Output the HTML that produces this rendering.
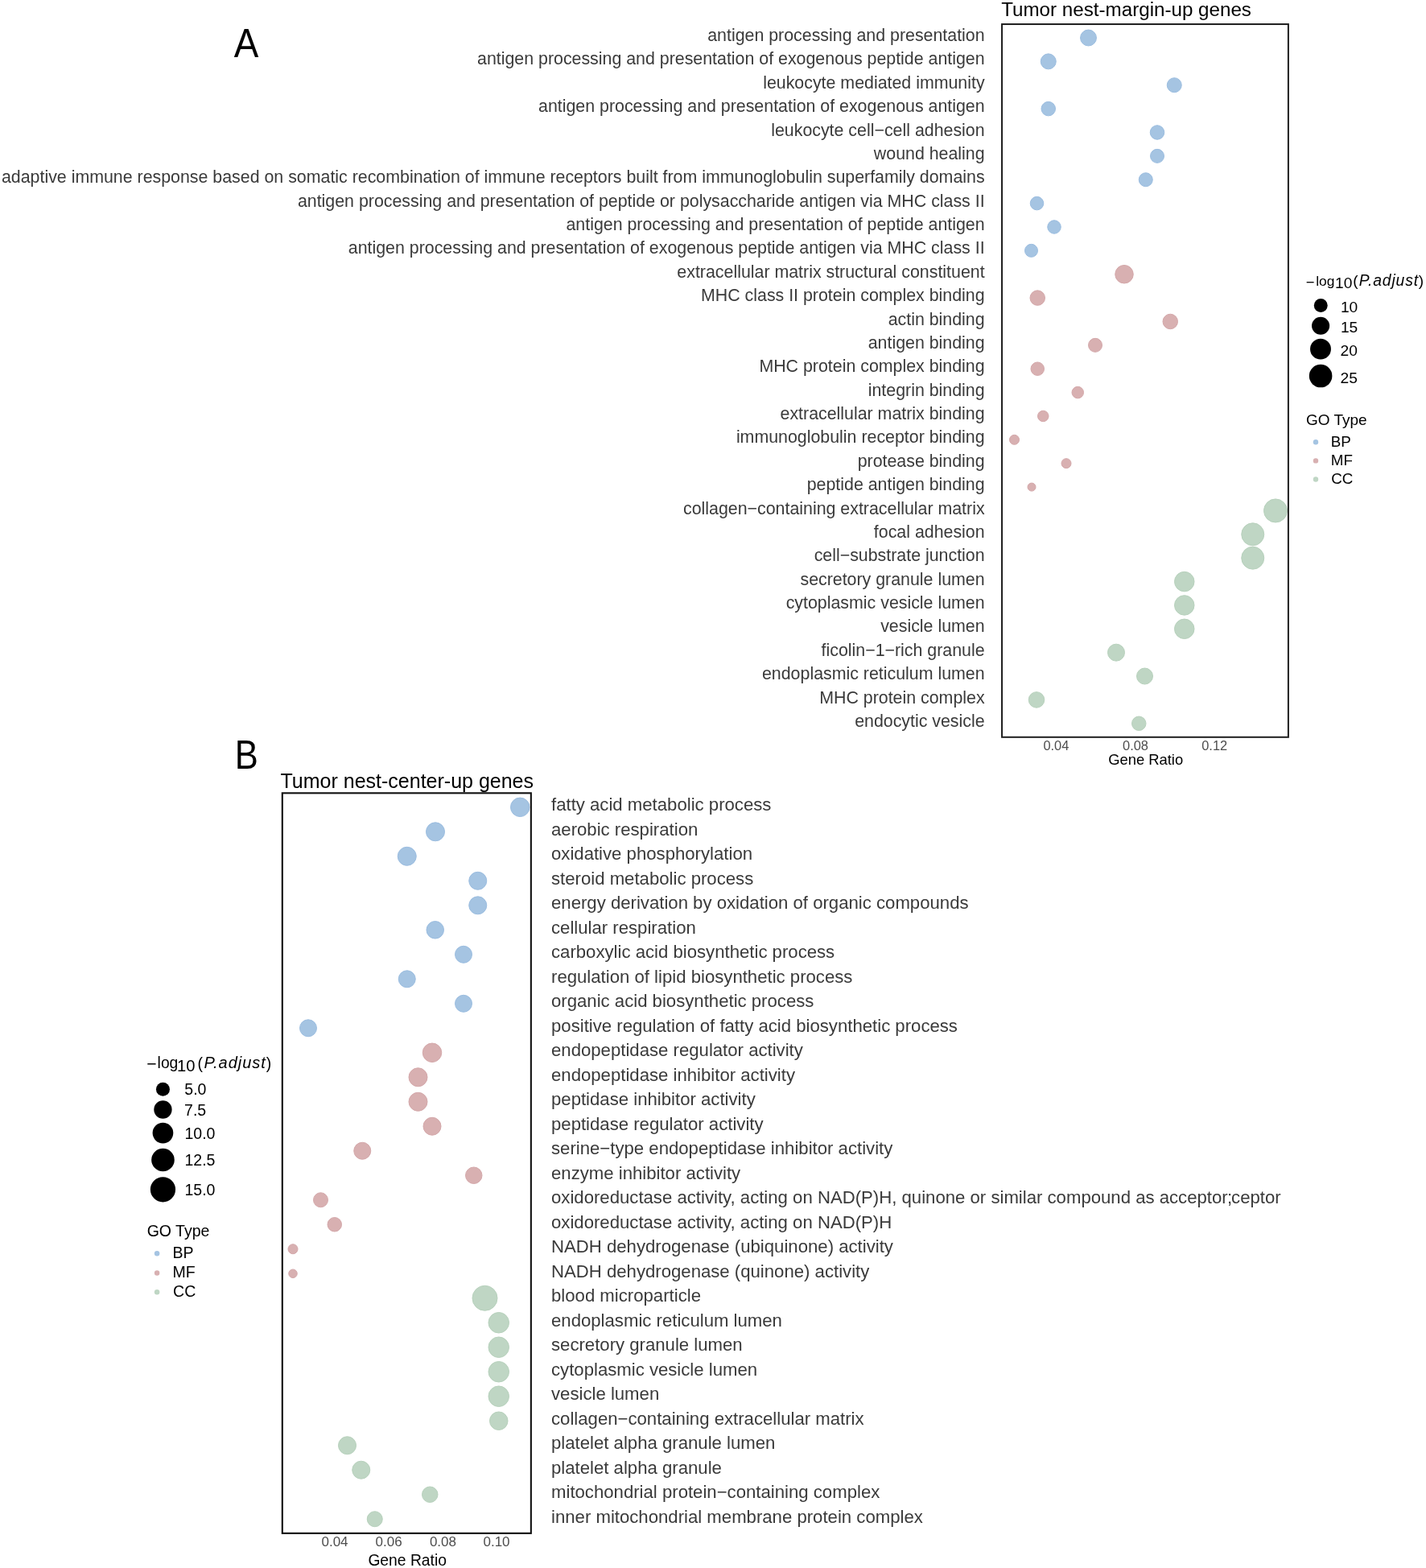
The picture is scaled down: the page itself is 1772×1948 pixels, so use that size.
<!DOCTYPE html>
<html><head><meta charset="utf-8"><title>GO enrichment dot plots</title>
<style>
html,body{margin:0;padding:0;background:#fff;}
body{width:1772px;height:1948px;overflow:hidden;}
svg{display:block;font-family:"Liberation Sans",Arial,sans-serif;}
</style></head><body>
<svg width="1772" height="1948" viewBox="0 0 1772 1948">
<rect x="0" y="0" width="1772" height="1948" fill="#ffffff"/>
<text x="0" y="0" font-size="49.5" fill="#000" transform="translate(290.68,70.8) scale(0.927,1)">A</text>
<text x="0" y="0" font-size="49.5" fill="#000" transform="translate(291.68,954.8) scale(0.88,1)">B</text>
<text x="1244.18" y="20.00" font-size="24.18" fill="#000">Tumor nest-margin-up genes</text>
<text x="1223.6" y="51.10" font-size="21.36" fill="#3a3a3a" text-anchor="end">antigen processing and presentation</text>
<text x="1223.6" y="80.47" font-size="21.36" fill="#3a3a3a" text-anchor="end">antigen processing and presentation of exogenous peptide antigen</text>
<text x="1223.6" y="109.84" font-size="21.36" fill="#3a3a3a" text-anchor="end">leukocyte mediated immunity</text>
<text x="1223.6" y="139.22" font-size="21.36" fill="#3a3a3a" text-anchor="end">antigen processing and presentation of exogenous antigen</text>
<text x="1223.6" y="168.59" font-size="21.36" fill="#3a3a3a" text-anchor="end">leukocyte cell−cell adhesion</text>
<text x="1223.6" y="197.96" font-size="21.36" fill="#3a3a3a" text-anchor="end">wound healing</text>
<text x="1223.6" y="227.33" font-size="21.36" fill="#3a3a3a" text-anchor="end">adaptive immune response based on somatic recombination of immune receptors built from immunoglobulin superfamily domains</text>
<text x="1223.6" y="256.70" font-size="21.36" fill="#3a3a3a" text-anchor="end">antigen processing and presentation of peptide or polysaccharide antigen via MHC class II</text>
<text x="1223.6" y="286.08" font-size="21.36" fill="#3a3a3a" text-anchor="end">antigen processing and presentation of peptide antigen</text>
<text x="1223.6" y="315.45" font-size="21.36" fill="#3a3a3a" text-anchor="end">antigen processing and presentation of exogenous peptide antigen via MHC class II</text>
<text x="1223.6" y="344.82" font-size="21.36" fill="#3a3a3a" text-anchor="end">extracellular matrix structural constituent</text>
<text x="1223.6" y="374.19" font-size="21.36" fill="#3a3a3a" text-anchor="end">MHC class II protein complex binding</text>
<text x="1223.6" y="403.56" font-size="21.36" fill="#3a3a3a" text-anchor="end">actin binding</text>
<text x="1223.6" y="432.94" font-size="21.36" fill="#3a3a3a" text-anchor="end">antigen binding</text>
<text x="1223.6" y="462.31" font-size="21.36" fill="#3a3a3a" text-anchor="end">MHC protein complex binding</text>
<text x="1223.6" y="491.68" font-size="21.36" fill="#3a3a3a" text-anchor="end">integrin binding</text>
<text x="1223.6" y="521.05" font-size="21.36" fill="#3a3a3a" text-anchor="end">extracellular matrix binding</text>
<text x="1223.6" y="550.42" font-size="21.36" fill="#3a3a3a" text-anchor="end">immunoglobulin receptor binding</text>
<text x="1223.6" y="579.80" font-size="21.36" fill="#3a3a3a" text-anchor="end">protease binding</text>
<text x="1223.6" y="609.17" font-size="21.36" fill="#3a3a3a" text-anchor="end">peptide antigen binding</text>
<text x="1223.6" y="638.54" font-size="21.36" fill="#3a3a3a" text-anchor="end">collagen−containing extracellular matrix</text>
<text x="1223.6" y="667.91" font-size="21.36" fill="#3a3a3a" text-anchor="end">focal adhesion</text>
<text x="1223.6" y="697.28" font-size="21.36" fill="#3a3a3a" text-anchor="end">cell−substrate junction</text>
<text x="1223.6" y="726.66" font-size="21.36" fill="#3a3a3a" text-anchor="end">secretory granule lumen</text>
<text x="1223.6" y="756.03" font-size="21.36" fill="#3a3a3a" text-anchor="end">cytoplasmic vesicle lumen</text>
<text x="1223.6" y="785.40" font-size="21.36" fill="#3a3a3a" text-anchor="end">vesicle lumen</text>
<text x="1223.6" y="814.77" font-size="21.36" fill="#3a3a3a" text-anchor="end">ficolin−1−rich granule</text>
<text x="1223.6" y="844.14" font-size="21.36" fill="#3a3a3a" text-anchor="end">endoplasmic reticulum lumen</text>
<text x="1223.6" y="873.52" font-size="21.36" fill="#3a3a3a" text-anchor="end">MHC protein complex</text>
<text x="1223.6" y="902.89" font-size="21.36" fill="#3a3a3a" text-anchor="end">endocytic vesicle</text>
<circle cx="1352.5" cy="47.00" r="9.95" fill="#A5C4E2" stroke="#9BBDE0" stroke-width="1"/>
<circle cx="1302.75" cy="76.37" r="9.50" fill="#A5C4E2" stroke="#9BBDE0" stroke-width="1"/>
<circle cx="1459.25" cy="105.74" r="9.00" fill="#A5C4E2" stroke="#9BBDE0" stroke-width="1"/>
<circle cx="1302.75" cy="135.12" r="8.75" fill="#A5C4E2" stroke="#9BBDE0" stroke-width="1"/>
<circle cx="1438" cy="164.49" r="8.75" fill="#A5C4E2" stroke="#9BBDE0" stroke-width="1"/>
<circle cx="1438" cy="193.86" r="8.50" fill="#A5C4E2" stroke="#9BBDE0" stroke-width="1"/>
<circle cx="1423.75" cy="223.23" r="8.50" fill="#A5C4E2" stroke="#9BBDE0" stroke-width="1"/>
<circle cx="1288.5" cy="252.60" r="8.25" fill="#A5C4E2" stroke="#9BBDE0" stroke-width="1"/>
<circle cx="1310" cy="281.98" r="8.25" fill="#A5C4E2" stroke="#9BBDE0" stroke-width="1"/>
<circle cx="1281.5" cy="311.35" r="8.00" fill="#A5C4E2" stroke="#9BBDE0" stroke-width="1"/>
<circle cx="1397" cy="340.72" r="11.25" fill="#D8B0B1" stroke="#D4A8AA" stroke-width="1"/>
<circle cx="1289.25" cy="370.09" r="9.25" fill="#D8B0B1" stroke="#D4A8AA" stroke-width="1"/>
<circle cx="1454.25" cy="399.46" r="9.25" fill="#D8B0B1" stroke="#D4A8AA" stroke-width="1"/>
<circle cx="1361" cy="428.84" r="8.50" fill="#D8B0B1" stroke="#D4A8AA" stroke-width="1"/>
<circle cx="1289.25" cy="458.21" r="8.25" fill="#D8B0B1" stroke="#D4A8AA" stroke-width="1"/>
<circle cx="1339.25" cy="487.58" r="7.25" fill="#D8B0B1" stroke="#D4A8AA" stroke-width="1"/>
<circle cx="1296.25" cy="516.95" r="6.75" fill="#D8B0B1" stroke="#D4A8AA" stroke-width="1"/>
<circle cx="1260.5" cy="546.32" r="6.00" fill="#D8B0B1" stroke="#D4A8AA" stroke-width="1"/>
<circle cx="1325" cy="575.70" r="6.00" fill="#D8B0B1" stroke="#D4A8AA" stroke-width="1"/>
<circle cx="1282" cy="605.07" r="5.00" fill="#D8B0B1" stroke="#D4A8AA" stroke-width="1"/>
<circle cx="1585" cy="634.44" r="14.50" fill="#BFD6C4" stroke="#B7D1BC" stroke-width="1"/>
<circle cx="1556.75" cy="663.81" r="14.00" fill="#BFD6C4" stroke="#B7D1BC" stroke-width="1"/>
<circle cx="1556.75" cy="693.18" r="14.00" fill="#BFD6C4" stroke="#B7D1BC" stroke-width="1"/>
<circle cx="1471.75" cy="722.56" r="12.25" fill="#BFD6C4" stroke="#B7D1BC" stroke-width="1"/>
<circle cx="1471.75" cy="751.93" r="12.25" fill="#BFD6C4" stroke="#B7D1BC" stroke-width="1"/>
<circle cx="1471.75" cy="781.30" r="12.25" fill="#BFD6C4" stroke="#B7D1BC" stroke-width="1"/>
<circle cx="1387" cy="810.67" r="10.50" fill="#BFD6C4" stroke="#B7D1BC" stroke-width="1"/>
<circle cx="1422.5" cy="840.04" r="10.00" fill="#BFD6C4" stroke="#B7D1BC" stroke-width="1"/>
<circle cx="1288" cy="869.42" r="9.75" fill="#BFD6C4" stroke="#B7D1BC" stroke-width="1"/>
<circle cx="1415.25" cy="898.79" r="8.75" fill="#BFD6C4" stroke="#B7D1BC" stroke-width="1"/>
<rect x="1245.05" y="30.05" width="355.85" height="885.75" fill="none" stroke="#1e1e1e" stroke-width="2"/>
<text x="1296.42" y="931.70" font-size="16.4" fill="#4d4d4d">0.04</text>
<text x="1395.02" y="931.70" font-size="16.4" fill="#4d4d4d">0.08</text>
<text x="1493.22" y="931.70" font-size="16.4" fill="#4d4d4d">0.12</text>
<text x="1377.17" y="949.90" font-size="18.4" fill="#000">Gene Ratio</text>
<text x="1622.77" y="356.61" font-size="18.46" fill="#000">−</text>
<text x="1635.22" y="354.80" font-size="17.4" fill="#000">log</text>
<text x="1659.12" y="357.70" font-size="19.2" fill="#000">10</text>
<text x="1681.17" y="354.90" font-size="19" fill="#000">(</text>
<text x="1688.65" y="354.80" font-size="19.3" font-style="italic" letter-spacing="0.896" fill="#000">P.adjust</text>
<text x="1762.78" y="354.90" font-size="19" fill="#000">)</text>
<circle cx="1641.25" cy="379.55" r="8.45" fill="#000"/>
<text x="1665.93" y="388.10" font-size="19.2" fill="#000">10</text>
<circle cx="1641.1" cy="404.7" r="11.05" fill="#000"/>
<text x="1665.93" y="412.90" font-size="19.2" fill="#000">15</text>
<circle cx="1641" cy="433.65" r="12.95" fill="#000"/>
<text x="1665.53" y="442.40" font-size="19.2" fill="#000">20</text>
<circle cx="1641.1" cy="467.05" r="14.3" fill="#000"/>
<text x="1665.53" y="475.70" font-size="19.2" fill="#000">25</text>
<text x="1623.00" y="528.45" font-size="19.0" fill="#000">GO Type</text>
<circle cx="1635.0" cy="549.2" r="3.2" fill="#A5C4E2"/>
<text x="1653.77" y="555.10" font-size="18.8" fill="#000">BP</text>
<circle cx="1635.0" cy="572.4" r="3.2" fill="#D8B0B1"/>
<text x="1653.77" y="578.30" font-size="18.8" fill="#000">MF</text>
<circle cx="1635.0" cy="595.5" r="3.2" fill="#BFD6C4"/>
<text x="1654.27" y="601.20" font-size="18.8" fill="#000">CC</text>
<text x="348.50" y="979.20" font-size="25.0" fill="#000">Tumor nest-center-up genes</text>
<text x="685.0" y="1007.10" font-size="22.17" fill="#3a3a3a">fatty acid metabolic process</text>
<text x="685.0" y="1037.60" font-size="22.17" fill="#3a3a3a">aerobic respiration</text>
<text x="685.0" y="1068.09" font-size="22.17" fill="#3a3a3a">oxidative phosphorylation</text>
<text x="685.0" y="1098.59" font-size="22.17" fill="#3a3a3a">steroid metabolic process</text>
<text x="685.0" y="1129.09" font-size="22.17" fill="#3a3a3a">energy derivation by oxidation of organic compounds</text>
<text x="685.0" y="1159.58" font-size="22.17" fill="#3a3a3a">cellular respiration</text>
<text x="685.0" y="1190.08" font-size="22.17" fill="#3a3a3a">carboxylic acid biosynthetic process</text>
<text x="685.0" y="1220.58" font-size="22.17" fill="#3a3a3a">regulation of lipid biosynthetic process</text>
<text x="685.0" y="1251.08" font-size="22.17" fill="#3a3a3a">organic acid biosynthetic process</text>
<text x="685.0" y="1281.57" font-size="22.17" fill="#3a3a3a">positive regulation of fatty acid biosynthetic process</text>
<text x="685.0" y="1312.07" font-size="22.17" fill="#3a3a3a">endopeptidase regulator activity</text>
<text x="685.0" y="1342.57" font-size="22.17" fill="#3a3a3a">endopeptidase inhibitor activity</text>
<text x="685.0" y="1373.06" font-size="22.17" fill="#3a3a3a">peptidase inhibitor activity</text>
<text x="685.0" y="1403.56" font-size="22.17" fill="#3a3a3a">peptidase regulator activity</text>
<text x="685.0" y="1434.06" font-size="22.17" fill="#3a3a3a">serine−type endopeptidase inhibitor activity</text>
<text x="685.0" y="1464.55" font-size="22.17" fill="#3a3a3a">enzyme inhibitor activity</text>
<text x="685.0" y="1495.05" font-size="22.17" fill="#3a3a3a">oxidoreductase activity, acting on NAD(P)H, quinone or similar compound as acceptor<tspan dx="-0.6">;</tspan><tspan dx="-1.2">ceptor</tspan></text>
<text x="685.0" y="1525.55" font-size="22.17" fill="#3a3a3a">oxidoreductase activity, acting on NAD(P)H</text>
<text x="685.0" y="1556.05" font-size="22.17" fill="#3a3a3a">NADH dehydrogenase (ubiquinone) activity</text>
<text x="685.0" y="1586.54" font-size="22.17" fill="#3a3a3a">NADH dehydrogenase (quinone) activity</text>
<text x="685.0" y="1617.04" font-size="22.17" fill="#3a3a3a">blood microparticle</text>
<text x="685.0" y="1647.54" font-size="22.17" fill="#3a3a3a">endoplasmic reticulum lumen</text>
<text x="685.0" y="1678.03" font-size="22.17" fill="#3a3a3a">secretory granule lumen</text>
<text x="685.0" y="1708.53" font-size="22.17" fill="#3a3a3a">cytoplasmic vesicle lumen</text>
<text x="685.0" y="1739.03" font-size="22.17" fill="#3a3a3a">vesicle lumen</text>
<text x="685.0" y="1769.52" font-size="22.17" fill="#3a3a3a">collagen−containing extracellular matrix</text>
<text x="685.0" y="1800.02" font-size="22.17" fill="#3a3a3a">platelet alpha granule lumen</text>
<text x="685.0" y="1830.52" font-size="22.17" fill="#3a3a3a">platelet alpha granule</text>
<text x="685.0" y="1861.02" font-size="22.17" fill="#3a3a3a">mitochondrial protein−containing complex</text>
<text x="685.0" y="1891.51" font-size="22.17" fill="#3a3a3a">inner mitochondrial membrane protein complex</text>
<circle cx="646.25" cy="1002.80" r="11.75" fill="#A5C4E2" stroke="#9BBDE0" stroke-width="1"/>
<circle cx="541" cy="1033.30" r="11.50" fill="#A5C4E2" stroke="#9BBDE0" stroke-width="1"/>
<circle cx="505.75" cy="1063.79" r="11.50" fill="#A5C4E2" stroke="#9BBDE0" stroke-width="1"/>
<circle cx="593.75" cy="1094.29" r="11.00" fill="#A5C4E2" stroke="#9BBDE0" stroke-width="1"/>
<circle cx="593.75" cy="1124.79" r="11.00" fill="#A5C4E2" stroke="#9BBDE0" stroke-width="1"/>
<circle cx="540.75" cy="1155.28" r="10.75" fill="#A5C4E2" stroke="#9BBDE0" stroke-width="1"/>
<circle cx="576" cy="1185.78" r="10.50" fill="#A5C4E2" stroke="#9BBDE0" stroke-width="1"/>
<circle cx="505.75" cy="1216.28" r="10.50" fill="#A5C4E2" stroke="#9BBDE0" stroke-width="1"/>
<circle cx="576" cy="1246.78" r="10.50" fill="#A5C4E2" stroke="#9BBDE0" stroke-width="1"/>
<circle cx="383" cy="1277.27" r="10.50" fill="#A5C4E2" stroke="#9BBDE0" stroke-width="1"/>
<circle cx="537" cy="1307.77" r="11.75" fill="#D8B0B1" stroke="#D4A8AA" stroke-width="1"/>
<circle cx="519.5" cy="1338.27" r="11.50" fill="#D8B0B1" stroke="#D4A8AA" stroke-width="1"/>
<circle cx="519.5" cy="1368.76" r="11.50" fill="#D8B0B1" stroke="#D4A8AA" stroke-width="1"/>
<circle cx="537" cy="1399.26" r="11.00" fill="#D8B0B1" stroke="#D4A8AA" stroke-width="1"/>
<circle cx="450.25" cy="1429.76" r="10.50" fill="#D8B0B1" stroke="#D4A8AA" stroke-width="1"/>
<circle cx="588.75" cy="1460.25" r="10.25" fill="#D8B0B1" stroke="#D4A8AA" stroke-width="1"/>
<circle cx="398.5" cy="1490.75" r="9.00" fill="#D8B0B1" stroke="#D4A8AA" stroke-width="1"/>
<circle cx="415.75" cy="1521.25" r="8.75" fill="#D8B0B1" stroke="#D4A8AA" stroke-width="1"/>
<circle cx="364" cy="1551.75" r="6.00" fill="#D8B0B1" stroke="#D4A8AA" stroke-width="1"/>
<circle cx="364" cy="1582.24" r="5.25" fill="#D8B0B1" stroke="#D4A8AA" stroke-width="1"/>
<circle cx="602.5" cy="1612.74" r="15.50" fill="#BFD6C4" stroke="#B7D1BC" stroke-width="1"/>
<circle cx="619.75" cy="1643.24" r="12.75" fill="#BFD6C4" stroke="#B7D1BC" stroke-width="1"/>
<circle cx="619.75" cy="1673.73" r="12.75" fill="#BFD6C4" stroke="#B7D1BC" stroke-width="1"/>
<circle cx="619.75" cy="1704.23" r="12.75" fill="#BFD6C4" stroke="#B7D1BC" stroke-width="1"/>
<circle cx="619.75" cy="1734.73" r="12.75" fill="#BFD6C4" stroke="#B7D1BC" stroke-width="1"/>
<circle cx="619.75" cy="1765.22" r="11.25" fill="#BFD6C4" stroke="#B7D1BC" stroke-width="1"/>
<circle cx="431.5" cy="1795.72" r="11.00" fill="#BFD6C4" stroke="#B7D1BC" stroke-width="1"/>
<circle cx="448.75" cy="1826.22" r="11.00" fill="#BFD6C4" stroke="#B7D1BC" stroke-width="1"/>
<circle cx="534.25" cy="1856.72" r="9.75" fill="#BFD6C4" stroke="#B7D1BC" stroke-width="1"/>
<circle cx="465.75" cy="1887.21" r="9.50" fill="#BFD6C4" stroke="#B7D1BC" stroke-width="1"/>
<rect x="350.8" y="985.3" width="309.05" height="919.55" fill="none" stroke="#111" stroke-width="2.1"/>
<text x="399.48" y="1921.30" font-size="17.0" fill="#4d4d4d">0.04</text>
<text x="466.57" y="1921.30" font-size="17.0" fill="#4d4d4d">0.06</text>
<text x="533.88" y="1921.30" font-size="17.0" fill="#4d4d4d">0.08</text>
<text x="600.48" y="1921.30" font-size="17.0" fill="#4d4d4d">0.10</text>
<text x="457.38" y="1944.50" font-size="19.3" fill="#000">Gene Ratio</text>
<text x="182.21" y="1329.41" font-size="21.13" fill="#000">−</text>
<text x="195.62" y="1327.20" font-size="19.3" fill="#000">log</text>
<text x="220.03" y="1330.50" font-size="20.2" fill="#000">10</text>
<text x="245.60" y="1327.50" font-size="19.4" fill="#000">(</text>
<text x="253.38" y="1327.20" font-size="20.0" font-style="italic" letter-spacing="0.95" fill="#000">P.adjust</text>
<text x="330.82" y="1327.50" font-size="19.4" fill="#000">)</text>
<circle cx="202.45" cy="1353.2" r="8.5" fill="#000"/>
<text x="229.35" y="1360.20" font-size="19.5" fill="#000">5.0</text>
<circle cx="202.45" cy="1378.5" r="11.15" fill="#000"/>
<text x="229.10" y="1386.00" font-size="19.5" fill="#000">7.5</text>
<circle cx="202.45" cy="1407.6" r="12.85" fill="#000"/>
<text x="229.50" y="1414.80" font-size="19.5" fill="#000">10.0</text>
<circle cx="202.45" cy="1441" r="14.3" fill="#000"/>
<text x="229.50" y="1448.30" font-size="19.5" fill="#000">12.5</text>
<circle cx="202.45" cy="1477.8" r="15.6" fill="#000"/>
<text x="229.50" y="1485.10" font-size="19.5" fill="#000">15.0</text>
<text x="182.70" y="1536.00" font-size="19.5" fill="#000">GO Type</text>
<circle cx="195.1" cy="1557.3" r="3.25" fill="#A5C4E2"/>
<text x="214.47" y="1563.40" font-size="19.5" fill="#000">BP</text>
<circle cx="195.1" cy="1581.4" r="3.25" fill="#D8B0B1"/>
<text x="214.47" y="1587.40" font-size="19.5" fill="#000">MF</text>
<circle cx="195.1" cy="1605.2" r="3.25" fill="#BFD6C4"/>
<text x="215.10" y="1611.30" font-size="19.5" fill="#000">CC</text>
</svg>
</body></html>
